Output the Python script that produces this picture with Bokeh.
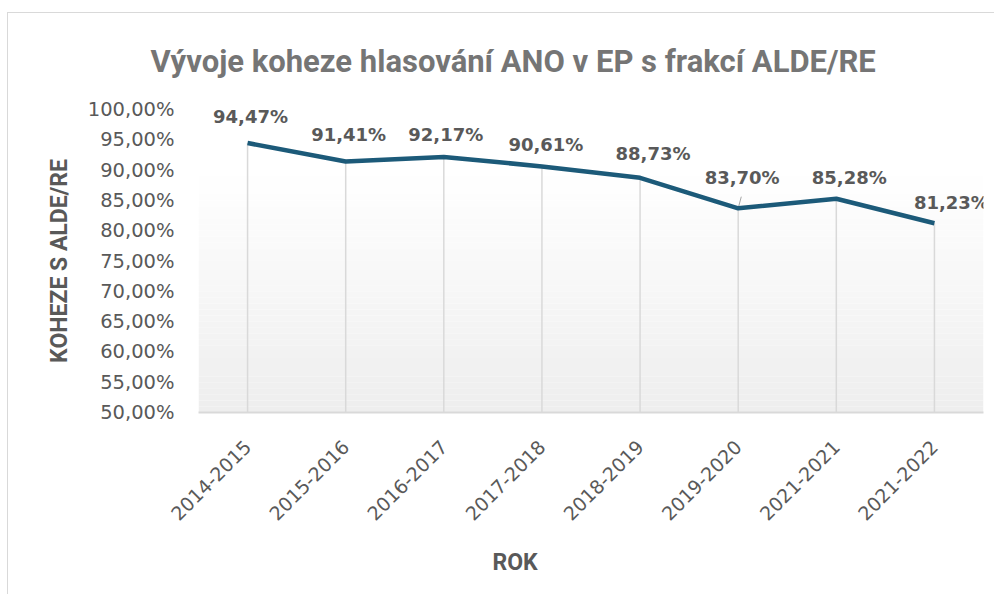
import numpy as np
from bokeh.plotting import figure
from bokeh.models import (ColumnDataSource, Range1d, FixedTicker, CustomJSTickFormatter,
                          BoxAnnotation, LabelSet, Title)
from bokeh.core.properties import value
from bokeh.embed import file_html
from bokeh.resources import INLINE

# ---- data ----
categories = ["2014-2015", "2015-2016", "2016-2017", "2017-2018",
              "2018-2019", "2019-2020", "2021-2021", "2021-2022"]
cohesion = [94.47, 91.41, 92.17, 90.61, 88.73, 83.70, 85.28, 81.23]
y_ticks = [50, 55, 60, 65, 70, 75, 80, 85, 90, 95, 100]

# label nudges (pixels, up is positive) as placed in the original
label_dx = [3, 3, 2, 4, 13, 4, 13, 17]
label_dy = [27, 27, 22, 22, 24, 31, 21, 21]

labels = [f"{v:.2f}".replace(".", ",") + "%" for v in cohesion]

src = ColumnDataSource(dict(cat=categories, val=cohesion, lab=labels,
                            dx=label_dx, dy=label_dy,
                            base=[y_ticks[0]] * len(categories)))

p = figure(x_range=categories, y_range=Range1d(y_ticks[0], y_ticks[-1]),
           width=987, height=582, output_backend="svg", toolbar_location=None,
           min_border_left=190, min_border_right=12, min_border_top=96,
           min_border_bottom=183)
p.styles = {"margin-top": "12px", "margin-left": "7px",
            "border-top": "1px solid #d9d9d9",
            "border-left": "1px solid #d9d9d9"}
p.outline_line_color = None
p.background_fill_color = "white"
p.border_fill_color = "white"

# gradient background of plot area
nb = 50
edges = np.linspace(y_ticks[0], y_ticks[-1], nb + 1)
for i in range(nb):
    t = i / (nb - 1)
    c = int(round(238 + (255 - 238) * min(1.0, t * 1.25)))
    p.add_layout(BoxAnnotation(bottom=edges[i], top=edges[i + 1],
                               fill_color=f"#{c:02x}{c:02x}{c:02x}", fill_alpha=1.0,
                               line_color=None, level="underlay"))

p.xgrid.visible = False
p.ygrid.visible = False

# drop lines
p.segment(x0="cat", y0="base", x1="cat", y1="val", source=src,
          line_color="#d9d9d9", line_width=1.5)

# leader line for 83,70 %
p.ray(x=[categories[5]], y=[cohesion[5]], length=12, length_units="screen",
      angle=np.deg2rad(75), line_color="#a6a6a6", line_width=1)

# main line
p.line(x="cat", y="val", source=src, line_color="#1c5a79", line_width=4.5,
       line_join="round")

# data labels
p.add_layout(LabelSet(x="cat", y="val", text="lab", source=src,
                      x_offset="dx", y_offset="dy",
                      text_font=value("DejaVu Sans"), text_font_style="bold",
                      text_font_size="18px", text_color="#595959",
                      text_align="center", text_baseline="middle"))

# chart title
p.title.text = "Vývoje koheze hlasování ANO v EP s frakcí ALDE/RE"
p.title.text_font = "Roboto"
p.title.text_font_style = "bold"
p.title.text_font_size = "31px"
p.title.text_color = "#757575"
p.title.align = "left"
p.title.offset = -48
p.title.vertical_align = "top"
p.title.standoff = 56

# y axis
ya = p.yaxis[0]
ya.ticker = FixedTicker(ticks=y_ticks)
ya.formatter = CustomJSTickFormatter(code="return tick.toFixed(2).replace('.', ',') + '%';")
ya.axis_line_color = None
ya.major_tick_line_color = None
ya.minor_tick_line_color = None
ya.major_tick_out = 0
ya.major_tick_in = 0
ya.major_label_standoff = 24
ya.major_label_text_font = "'DejaVu Sans'"
ya.major_label_text_font_size = "19.5px"
ya.major_label_text_color = "#595959"
ya.axis_label = "KOHEZE S ALDE/RE"
ya.axis_label_text_font = "Roboto"
ya.axis_label_text_font_style = "bold"
ya.axis_label_text_font_size = "23px"
ya.axis_label_text_color = "#595959"
ya.axis_label_standoff = 12

# x axis
xa = p.xaxis[0]
xa.axis_line_color = "#d9d9d9"
xa.axis_line_width = 2
xa.major_tick_line_color = None
xa.minor_tick_line_color = None
xa.major_tick_out = 0
xa.major_tick_in = 0
xa.major_label_orientation = np.pi / 4
xa.major_label_standoff = 31
xa.major_label_text_font = "'DejaVu Sans'"
xa.major_label_text_font_size = "19px"
xa.major_label_text_color = "#595959"

# x axis title, centred on the whole chart as in the original
p.add_layout(Title(text="ROK", text_font="Roboto", text_font_style="bold",
                   text_font_size="23px", text_color="#595959",
                   align="left", offset=294, standoff=34), "below")

open("out.html", "w").write(file_html(p, INLINE))
